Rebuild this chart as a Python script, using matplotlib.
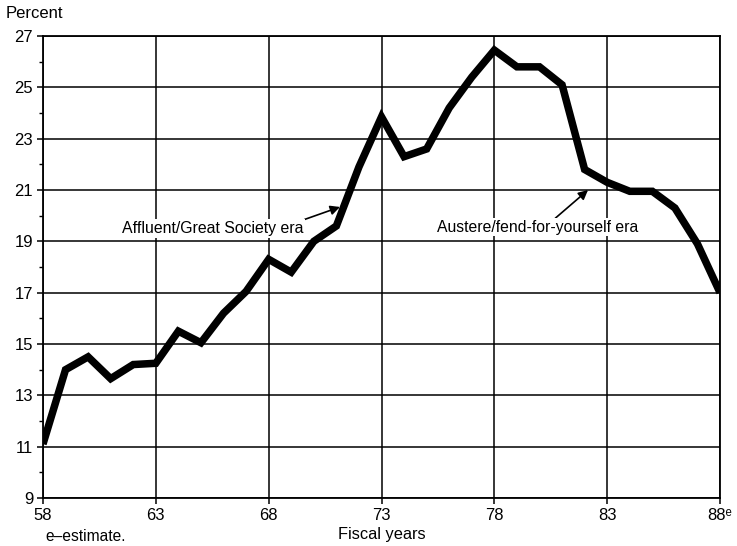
import matplotlib
matplotlib.use("Agg")
import matplotlib.pyplot as plt
from matplotlib.ticker import MultipleLocator

plt.rcParams['font.family'] = ['Liberation Sans', 'DejaVu Sans']

years = [58, 59, 60, 61, 62, 63, 64, 65, 66, 67, 68, 69, 70, 71, 72, 73,
         74, 75, 76, 77, 78, 79, 80, 81, 82, 83, 84, 85, 86, 87, 88]
percent = [11.1, 14.0, 14.5, 13.65, 14.2, 14.25, 15.5, 15.05, 16.2, 17.05,
           18.3, 17.8, 19.0, 19.6, 21.9, 23.85, 22.3, 22.6, 24.2, 25.4,
           26.45, 25.8, 25.8, 25.1, 21.8, 21.3, 20.95, 20.95, 20.3, 18.9, 17.0]
xticks = [58, 63, 68, 73, 78, 83, 88]
xticklabels = ['58', '63', '68', '73', '78', '83', '88\u1d49']
yticks = [9, 11, 13, 15, 17, 19, 21, 23, 25, 27]

fig = plt.figure(figsize=(7.37, 5.46), dpi=100)
ax = fig.add_axes([0.0583, 0.0879, 0.977 - 0.0583, 0.934 - 0.0879])

ax.plot(years, percent, color='black', lw=5.4, solid_joinstyle='miter',
        solid_capstyle='butt', zorder=3)

ax.set_xlim(58, 88)
ax.set_ylim(9, 27)
ax.set_xticks(xticks)
ax.set_xticklabels(xticklabels)
ax.set_yticks(yticks)
ax.yaxis.set_minor_locator(MultipleLocator(1))
ax.grid(True, which='major', color='black', lw=1.1)
ax.tick_params(which='major', direction='out', length=4, width=1.1,
               labelsize=12, pad=3, colors='black')
ax.tick_params(which='minor', direction='out', length=3, width=1.0)
for s in ax.spines.values():
    s.set_linewidth(1.3)
    s.set_color('black')

ax.set_xlabel('Fiscal years', fontsize=11.8, labelpad=3)
fig.text(0.007, 0.975, 'Percent', fontsize=12, ha='left', va='center')
fig.text(0.061, 0.018, 'e\u2013estimate.', fontsize=11.2, ha='left', va='center')

ax.annotate('Affluent/Great Society era', xy=(71.16, 20.34), xytext=(61.5, 19.5),
            xycoords='data', textcoords='data', fontsize=11.4, ha='left', va='center',
            bbox=dict(boxstyle='square,pad=0.1', fc='white', ec='none'),
            arrowprops=dict(arrowstyle='-|>', color='black', lw=1.2,
                            mutation_scale=14, shrinkA=0, shrinkB=0,
                            relpos=(0.97, 0.95)), zorder=4)
ax.annotate('Austere/fend-for-yourself era', xy=(82.15, 21.0), xytext=(75.45, 19.55),
            xycoords='data', textcoords='data', fontsize=11.3, ha='left', va='center',
            bbox=dict(boxstyle='square,pad=0.1', fc='white', ec='none'),
            arrowprops=dict(arrowstyle='-|>', color='black', lw=1.2,
                            mutation_scale=14, shrinkA=0, shrinkB=0,
                            relpos=(0.58, 1.0)), zorder=4)

fig.savefig('out.png', dpi=100)
